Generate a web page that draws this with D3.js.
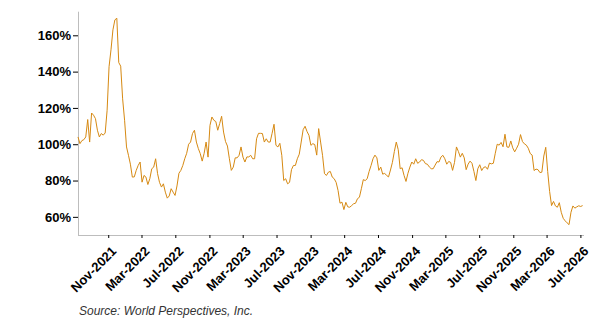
<!DOCTYPE html>
<html>
<head>
<meta charset="utf-8">
<script src="https://cdn.jsdelivr.net/npm/d3@7"></script>
<style>
  body { margin: 0; background: #fff; }
  text { font-family: "Liberation Sans", Arial, sans-serif; }
</style>
</head>
<body>
<div id="chart"></div>
<script>
// weekly series, first week starting 15 Jul 2021
var firstWeek = "2021-07-15";
var values = [
  104, 100.3, 102, 102.5, 104, 113.6, 101.2, 117.2, 116, 114.1,
  107.7, 104, 105.9, 105, 106.2, 118.7, 142.7, 152, 163, 168.5,
  169.4, 145, 143, 125, 113.2, 98.5, 93.9, 89, 81.9, 82,
  85.6, 88.3, 90.2, 79.1, 82.8, 81.9, 77.8, 81, 86.5, 87.4,
  92, 83.8, 79, 76.4, 78.2, 73.6, 70.3, 71.5, 75.5, 73.6,
  71.8, 77, 84, 85.6, 88.3, 92, 95, 100, 101.2, 105.9,
  107.7, 101.2, 97.6, 94.8, 90.7, 95, 101.2, 92.9, 110.4, 115,
  113.2, 112.5, 107.7, 111.4, 115.4, 106.7, 101.5, 99, 92, 85.6,
  87.4, 92.5, 92.5, 93.9, 98.5, 92.9, 90.2, 93, 93, 93.9,
  92, 92, 103, 106, 106, 105.9, 101.2, 103, 101.2, 101.2,
  106, 111, 99.4, 98.5, 100.5, 93.9, 80, 81, 78.2, 79,
  86, 88.3, 88.3, 92, 94.5, 101.2, 108, 109.9, 107, 104.9,
  99.4, 100.3, 99.8, 94, 108.6, 101.2, 93.9, 83.8, 82.8, 84.6,
  85, 81.9, 81, 79, 74.5, 67.5, 68.1, 64, 68, 65.5,
  65.3, 66.2, 67.2, 67.5, 70, 70.8, 75.5, 80.5, 80, 81,
  85, 88.3, 92, 94, 92.5, 85.6, 87.4, 83.5, 84, 82.8,
  82, 85.8, 90, 96, 101.2, 97, 86.5, 87, 82.8, 79.5,
  84, 87.4, 90.2, 89, 92, 89.5, 90.2, 91.5, 91.1, 89.3,
  89, 87.5, 86.5, 86.5, 88.5, 90.4, 90.2, 92.9, 93.9, 92,
  89, 90.5, 90, 85.6, 90, 98.5, 96, 92.9, 95, 92.5,
  86, 89, 90.7, 89.5, 85, 80, 86.5, 88.7, 85.5, 87.2,
  87.6, 86.2, 89.6, 89.2, 89.5, 95, 100, 99.5, 101, 98.6,
  105.5, 98.5, 98.3, 101.8, 98, 95.8, 97.8, 100, 105.3, 101.5,
  100.2, 99.5, 97.8, 94.9, 94, 85.5, 86.3, 86, 84.4, 84.6,
  93.5, 98.3, 85, 74, 66.2, 68.5, 66, 65.3, 67.8, 62.5,
  59.2, 57.8, 56.7, 55.7, 62.5, 66, 64.8, 65.5, 66.1, 65.7, 66.2
];
var xTickDates = ["2021-11-01", "2022-03-01", "2022-07-01", "2022-11-01", "2023-03-01",
  "2023-07-01", "2023-11-01", "2024-03-01", "2024-07-01", "2024-11-01", "2025-03-01",
  "2025-07-01", "2025-11-01", "2026-03-01", "2026-07-01"];
var yTicks = [60, 80, 100, 120, 140, 160];
var sourceText = "Source: World Perspectives, Inc.";

var parse = d3.timeParse("%Y-%m-%d");
var start = parse(firstWeek);
var data = values.map(function(v, i) {
  return { date: d3.timeDay.offset(start, 7 * i), value: v };
});

var width = 596, height = 331;
var plotLeft = 78, plotRight = 584, plotTop = 11.7, plotBottom = 235;

var svg = d3.select("#chart")
  .append("svg")
  .attr("width", width)
  .attr("height", height);

var x = d3.scaleTime()
  .domain([parse("2021-07-15"), parse("2026-07-14")])
  .range([plotLeft, plotRight]);

var y = d3.scaleLinear()
  .domain([50, 173])
  .range([plotBottom, plotTop]);

// y axis
var yAxis = svg.append("g")
  .attr("transform", "translate(" + plotLeft + ",0)")
  .call(d3.axisLeft(y).tickValues(yTicks).tickSize(5).tickPadding(2)
    .tickFormat(function(d) { return d + "%"; }));
yAxis.select(".domain").attr("stroke", "#bdbdbd").attr("d", "M0.5," + plotTop + "V" + plotBottom);
yAxis.selectAll(".tick line").attr("stroke", "#000");
yAxis.selectAll("text")
  .attr("fill", "#000")
  .style("font-size", "13px")
  .style("font-weight", "bold");

// x axis
var xAxis = svg.append("g")
  .attr("transform", "translate(0," + plotBottom + ")")
  .call(d3.axisBottom(x).tickValues(xTickDates.map(parse)).tickSize(3)
    .tickFormat(d3.timeFormat("%b-%Y")));
xAxis.select(".domain").attr("stroke", "#bdbdbd").attr("d", "M" + plotLeft + ",0.5H" + plotRight);
xAxis.selectAll(".tick line").attr("stroke", "#000");
xAxis.selectAll("text")
  .attr("fill", "#000")
  .attr("text-anchor", "end")
  .attr("y", 0)
  .attr("dy", 0)
  .attr("transform", "translate(8.5,17) rotate(-45)")
  .style("font-size", "13px")
  .style("font-weight", "bold");

// the line
var line = d3.line()
  .x(function(d) { return x(d.date); })
  .y(function(d) { return y(d.value); });

svg.append("path")
  .datum(data)
  .attr("fill", "none")
  .attr("stroke", "#d68912")
  .attr("stroke-width", 1)
  .attr("d", line);

svg.append("text")
  .attr("x", 79)
  .attr("y", 315)
  .attr("fill", "#333")
  .style("font-size", "12px")
  .style("font-style", "italic")
  .text(sourceText);
</script>
</body>
</html>
